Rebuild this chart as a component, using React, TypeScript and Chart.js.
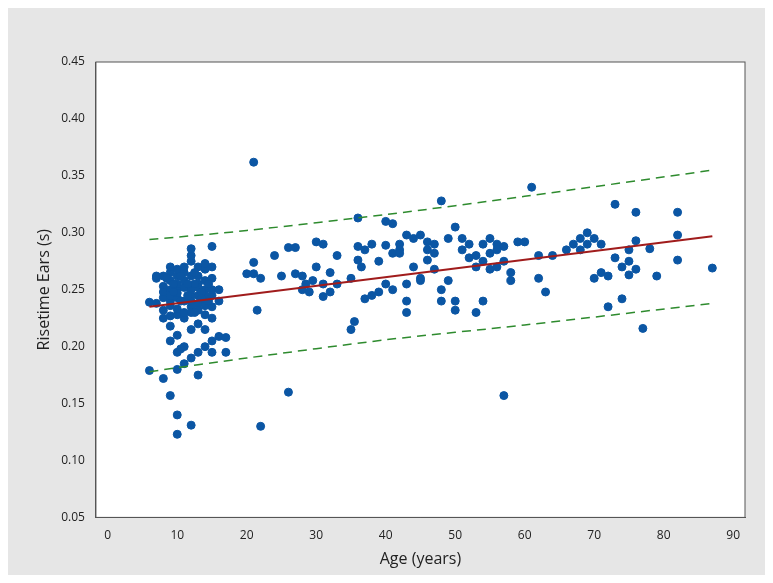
import React, { useEffect, useRef } from 'react';
import Chart from 'chart.js/auto';

// Scatter data: age (years) and risetime (s)
const ages: number[] = [
  6, 6, 7, 7, 7, 8, 8, 8, 8, 8, 8, 8, 9, 9, 9, 9, 9, 9, 9, 9, 9, 9, 9,
  10, 10, 10, 10, 10, 10, 10, 10, 10, 10, 10, 10, 10, 11, 11, 11, 11, 11, 11, 11, 11, 11,
  12, 12, 12, 12, 12, 12, 12, 12, 12, 12, 12, 12, 13, 13, 13, 13, 13, 13, 13, 13, 13, 13,
  14, 14, 14, 14, 14, 14, 14, 14, 14, 14, 15, 15, 15, 15, 15, 15, 15, 15, 15, 16, 16, 16, 17, 17,
  9.5, 10.5, 11.5, 12.5, 13.5, 14.5, 8.5, 9.5, 10.5, 11.5, 12.5, 13.5, 14.5, 10.5, 12.5,
  20, 21, 21, 21, 21.5, 22, 22, 24, 25, 26, 26, 27, 27, 28, 28, 28.5, 29, 29.5, 30, 30, 31, 31, 31, 32, 32, 33, 33,
  35, 35, 35.5, 36, 36, 36, 36.5, 37, 37, 38, 38, 39, 39, 40, 40, 40, 41, 41, 41, 42, 42, 42, 43, 43, 43, 43, 44, 44, 45, 45, 45, 46, 46, 46, 47, 47, 47, 48, 48, 48, 49, 49, 50, 50, 50, 51, 51, 52, 52,
  53, 53, 53, 54, 54, 54, 55, 55, 55, 56, 56, 56, 57, 57, 57, 58, 58, 59, 60, 61, 62, 62, 63, 64, 66, 67, 68, 68, 69, 69, 70, 70, 71, 71, 72, 72, 73, 73, 74, 74, 75, 75, 75, 76, 76, 76, 77, 78, 79, 82, 82, 82, 87,
];
const risetimes: number[] = [
  0.239, 0.179, 0.26, 0.262, 0.238, 0.172, 0.225, 0.243, 0.253, 0.262, 0.232, 0.248, 0.157, 0.205, 0.227, 0.24, 0.25, 0.258, 0.265, 0.27, 0.236, 0.245, 0.218,
  0.123, 0.14, 0.18, 0.195, 0.21, 0.228, 0.243, 0.25, 0.255, 0.262, 0.268, 0.233, 0.247, 0.185, 0.2, 0.225, 0.24, 0.252, 0.258, 0.265, 0.27, 0.23,
  0.131, 0.19, 0.215, 0.235, 0.245, 0.25, 0.262, 0.275, 0.28, 0.286, 0.23, 0.24, 0.175, 0.195, 0.22, 0.238, 0.245, 0.255, 0.262, 0.27, 0.252, 0.232,
  0.2, 0.215, 0.228, 0.24, 0.25, 0.258, 0.268, 0.273, 0.245, 0.236, 0.195, 0.205, 0.225, 0.235, 0.245, 0.25, 0.26, 0.27, 0.288, 0.209, 0.24, 0.25, 0.208, 0.195,
  0.255, 0.262, 0.245, 0.255, 0.248, 0.24, 0.26, 0.248, 0.24, 0.255, 0.265, 0.242, 0.255, 0.198, 0.23,
  0.264, 0.362, 0.274, 0.264, 0.232, 0.13, 0.26, 0.28, 0.262, 0.16, 0.287, 0.287, 0.264, 0.262, 0.25, 0.255, 0.248, 0.258, 0.292, 0.27, 0.29, 0.255, 0.244, 0.265, 0.248, 0.28, 0.255,
  0.215, 0.26, 0.222, 0.313, 0.288, 0.276, 0.27, 0.285, 0.242, 0.29, 0.245, 0.275, 0.248, 0.31, 0.289, 0.255, 0.308, 0.282, 0.25, 0.29, 0.285, 0.282, 0.298, 0.24, 0.255, 0.23, 0.295, 0.27, 0.258, 0.26, 0.298, 0.285, 0.292, 0.276, 0.282, 0.268, 0.29, 0.25, 0.24, 0.328, 0.295, 0.258, 0.305, 0.24, 0.232, 0.295, 0.285, 0.29, 0.278,
  0.23, 0.27, 0.28, 0.29, 0.275, 0.24, 0.295, 0.282, 0.268, 0.29, 0.285, 0.27, 0.157, 0.288, 0.275, 0.265, 0.258, 0.292, 0.292, 0.34, 0.26, 0.28, 0.248, 0.28, 0.285, 0.29, 0.295, 0.285, 0.3, 0.29, 0.26, 0.295, 0.265, 0.29, 0.235, 0.262, 0.325, 0.278, 0.242, 0.27, 0.285, 0.263, 0.275, 0.318, 0.293, 0.268, 0.216, 0.286, 0.262, 0.318, 0.298, 0.276, 0.269,
];

// Fitted line and 95% prediction band
const fitX: number[] = [6, 87];
const fitY: number[] = [0.235, 0.297];
const bandX: number[] = [6, 20, 40, 60, 87];
const upperY: number[] = [0.294, 0.302, 0.316, 0.332, 0.355];
const lowerY: number[] = [0.178, 0.19, 0.206, 0.219, 0.238];

const pts = (xs: number[], ys: number[]) => xs.map((x, i) => ({ x, y: ys[i] }));

const App: React.FC = () => {
  const chartRef = useRef<HTMLCanvasElement>(null);

  useEffect(() => {
    if (!chartRef.current) return;
    const font = { family: "'Open Sans', 'Noto Sans', sans-serif" };
    const chart = new Chart(chartRef.current, {
      type: 'scatter',
      data: {
        datasets: [
          {
            label: 'Upper',
            type: 'line',
            data: pts(bandX, upperY),
            borderColor: '#2e8b2e',
            borderWidth: 1.5,
            borderDash: [9, 6],
            pointRadius: 0,
            tension: 0.3,
          },
          {
            label: 'Lower',
            type: 'line',
            data: pts(bandX, lowerY),
            borderColor: '#2e8b2e',
            borderWidth: 1.5,
            borderDash: [9, 6],
            pointRadius: 0,
            tension: 0.3,
          },
          {
            label: 'Fit',
            type: 'line',
            data: pts(fitX, fitY),
            borderColor: '#a01c1c',
            borderWidth: 2,
            pointRadius: 0,
          },
          {
            label: 'Data',
            data: pts(ages, risetimes),
            backgroundColor: '#0b56a4',
            borderColor: '#0b56a4',
            pointRadius: 4,
          },
        ],
      },
      options: {
        responsive: true,
        maintainAspectRatio: false,
        animation: false,
        layout: { padding: { top: 62, right: 28, left: 31, bottom: 10 } },
        plugins: { legend: { display: false }, tooltip: { enabled: false } },
        scales: {
          x: {
            type: 'linear',
            min: -1.7,
            max: 91.7,
            afterBuildTicks: (axis) => {
              axis.ticks = [0, 10, 20, 30, 40, 50, 60, 70, 80, 90].map((v) => ({ value: v }));
            },
            grid: { display: false, drawTicks: true },
            border: { color: '#555' },
            ticks: { color: '#222', font: { ...font, size: 12 } },
            title: { display: true, text: 'Age (years)', color: '#222', font: { ...font, size: 16 } },
          },
          y: {
            min: 0.05,
            max: 0.45,
            ticks: { stepSize: 0.05, color: '#222', font: { ...font, size: 12 }, callback: (v) => Number(v).toFixed(2) },
            grid: { display: false },
            border: { color: '#555' },
            title: { display: true, text: 'Risetime Ears (s)', color: '#222', font: { ...font, size: 16 } },
          },
        },
      },
      plugins: [
        {
          id: 'frame',
          beforeDraw: (c) => {
            const { ctx, chartArea: a } = c;
            ctx.save();
            ctx.fillStyle = '#ffffff';
            ctx.fillRect(a.left, a.top, a.right - a.left, a.bottom - a.top);
            ctx.strokeStyle = '#555';
            ctx.lineWidth = 1;
            ctx.strokeRect(a.left, a.top, a.right - a.left, a.bottom - a.top);
            ctx.restore();
          },
        },
      ],
    });
    return () => chart.destroy();
  }, []);

  return (
    <div style={{ width: 773, height: 583, margin: -8, background: '#e6e6e6' }}>
      <canvas ref={chartRef} />
    </div>
  );
};

export default App;
